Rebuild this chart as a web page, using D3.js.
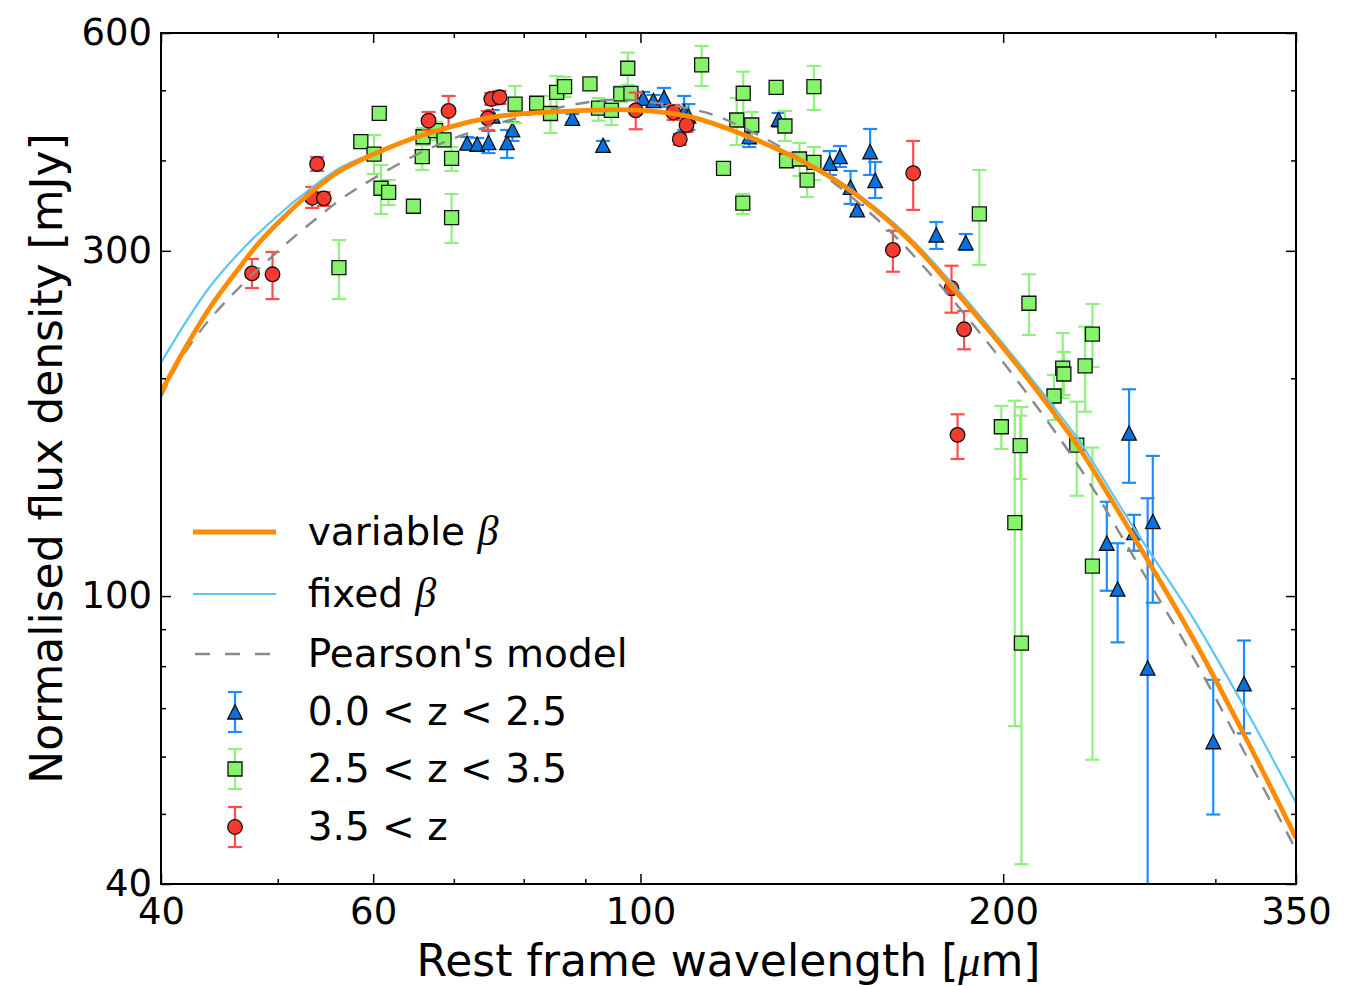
<!DOCTYPE html>
<html>
<head>
<meta charset="utf-8">
<script src="https://cdn.jsdelivr.net/npm/d3@7"></script>
<style>
  html, body { margin: 0; padding: 0; background: #ffffff; }
  svg { display: block; }
  text { font-family: "DejaVu Sans", sans-serif; fill: #000; }
</style>
</head>
<body>
<svg id="chart" width="1359" height="986"></svg>
<script>
// ---------------- data ----------------
const xMajorTicks = [40, 60, 100, 200, 350];
const xMinorTicks = [50, 70, 80, 90, 300];
const yMajorTicks = [40, 100, 300, 600];
const yMinorTicks = [50, 60, 70, 80, 90, 200, 400, 500];

const xLabel = "Rest frame wavelength [";
const yLabel = "Normalised flux density [mJy]";
const legendLabels = ["variable ", "fixed ", "Pearson's model", "0.0 < z < 2.5", "2.5 < z < 3.5", "3.5 < z"];

// variable beta fit (orange)
const varBetaX = [40, 41.9, 43.9, 46.1, 48.3, 50.7, 53.2, 56.3, 60.1, 66.0, 75.4, 85.8, 99.3, 109.9, 120.9, 137.4, 146.4, 156.0, 168.4, 181.3, 203.8, 224.2, 231.6, 256.1, 287.4, 318.7, 350];
const varBetaY = [191.4, 220.2, 250.1, 279.5, 308.5, 335.2, 360.6, 386.8, 408.2, 433.6, 459.2, 467.3, 469.5, 459.7, 436.0, 396.3, 371.9, 343.9, 306.6, 267.4, 212.0, 172.3, 159.7, 121.5, 87.5, 63.2, 46.3];
// fixed beta fit (light blue)
const fixBetaX = [40, 41.5, 43.9, 46.8, 49.9, 53.2, 56.3, 60.1, 66.0, 75.4, 85.8, 99.3, 109.9, 120.9, 137.4, 146.4, 156.0, 168.4, 181.3, 203.8, 224.2, 231.6, 256.1, 287.4, 318.7, 350];
const fixBetaY = [209.9, 232.5, 267.4, 302.2, 334.6, 365.3, 390.5, 409.5, 434.3, 459.2, 467.3, 469.5, 459.9, 436.4, 397.3, 373.5, 346.1, 309.5, 270.8, 214.7, 175.7, 163.3, 125.0, 93.3, 69.2, 51.8];
// Pearson's model (grey dashed)
const pearsonX = [40, 41.5, 43.4, 45.4, 47.4, 49.3, 51.5, 53.9, 56.3, 58.9, 65.6, 73.6, 89.1, 97.4, 112.8, 120.9, 137.4, 158.1, 174.9, 203.8, 231.6, 256.1, 287.4, 318.7, 350];
const pearsonY = [188.4, 212.0, 235.7, 256.6, 276.0, 293.2, 312.9, 333.1, 352.7, 370.5, 409.5, 442.1, 479.5, 484.9, 466.7, 446.3, 396.7, 328.8, 276.0, 202.1, 150.3, 114.0, 82.4, 59.9, 44.6];

// 0.0 < z < 2.5 (blue triangles)
const lowZX  = [71.8, 73.2, 74.8, 77.5, 78.3, 75.4, 87.8, 93.1, 100.5, 102.5, 104.6, 108.7, 109.6, 123.1, 130.2, 143.6, 146.4, 155.1, 156.6, 149.4, 151.3, 176.0, 186.2, 254.4, 243.8, 248.9, 256.8, 266.2, 263.6, 298.8, 316.9];
const lowZY  = [422.5, 421.1, 423.3, 423.3, 440.7, 460.7, 457.4, 419.5, 487.4, 483.7, 488.4, 467.1, 460.7, 431.3, 456.0, 396.3, 404.8, 411.2, 375.1, 367.2, 341.7, 315.5, 307.8, 167.9, 118.3, 102.2, 122.4, 126.7, 79.5, 62.9, 75.6];
const lowZLo = [414.7, 413.4, 409.5, 403.1, 425.6, 452.0, 452.0, 413.4, 478.6, 475.6, 474.1, 440.7, 440.7, 417.4, 444.9, 381.9, 391.7, 381.9, 354.9, 348.3, 337.4, 301.8, 300.8, 143.4, 101.7, 86.3, 115.5, 97.9, 1, 49.9, 64.6];
const lowZHi = [430.9, 429.6, 439.3, 440.7, 452.0, 469.5, 463.7, 425.6, 497.4, 492.6, 503.7, 491.1, 478.6, 444.9, 465.2, 412.1, 418.8, 442.1, 398.0, 386.8, 347.2, 328.8, 316.5, 193.1, 135.0, 118.3, 129.5, 156.2, 136.5, 76.6, 86.8];

// 2.5 < z < 3.5 (green squares)
const midZX  = [56.2, 58.6, 60.7, 60.1, 60.9, 61.8, 64.8, 69.7, 65.9, 66.0, 67.6, 68.7, 69.7, 78.7, 82.0, 84.2, 85.2, 86.5, 90.8, 92.3, 94.6, 96.3, 97.6, 98.2, 112.4, 121.7, 120.2, 123.7, 117.2, 121.6, 129.6, 139.3, 131.8, 132.2, 135.5, 139.3, 137.5, 191.1, 210.1, 237.2, 233.9, 224.1, 224.6, 220.4, 199.3, 206.6, 204.5, 207.1, 230.2, 237.2];
const midZY  = [284.3, 424.6, 464.7, 408.2, 366.1, 361.4, 345.7, 333.4, 404.8, 431.3, 439.7, 426.9, 402.7, 478.6, 479.8, 464.4, 496.6, 505.8, 510.2, 472.5, 469.0, 494.2, 536.3, 495.0, 542.0, 495.3, 454.9, 447.7, 390.1, 349.1, 504.8, 505.8, 446.3, 399.6, 401.8, 397.6, 375.8, 337.4, 253.9, 230.2, 208.0, 206.5, 202.7, 189.0, 171.4, 161.4, 126.3, 86.1, 161.7, 110.0];
const midZLo = [257.3, 416.0, 454.9, 383.1, 337.4, 347.2, 338.4, 307.5, 388.0, 420.2, 426.9, 417.4, 386.8, 450.6, 469.5, 436.5, 474.1, 489.5, 502.1, 453.9, 447.7, 481.7, 508.5, 484.9, 506.9, 457.4, 420.2, 429.6, 384.3, 337.4, 495.8, 469.5, 425.6, 391.7, 380.7, 375.8, 356.0, 286.7, 229.5, 207.3, 179.8, 187.7, 189.6, 175.1, 159.7, 145.1, 66.1, 42.6, 137.6, 59.4];
const midZHi = [310.5, 433.6, 474.1, 433.6, 394.2, 375.8, 352.7, 359.5, 420.2, 443.5, 452.0, 436.5, 417.4, 506.9, 489.5, 491.1, 523.3, 521.6, 518.3, 487.9, 480.2, 506.9, 563.6, 503.7, 575.6, 530.5, 487.9, 466.7, 396.7, 359.5, 513.4, 540.3, 468.2, 406.9, 422.8, 417.4, 396.7, 388.0, 278.4, 253.3, 235.7, 231.0, 217.4, 202.1, 183.1, 177.6, 186.2, 182.5, 185.6, 160.4];

// 3.5 < z (red circles)
const highZX  = [47.6, 49.5, 53.9, 53.4, 54.6, 66.7, 69.3, 74.7, 75.2, 76.4, 99.1, 106.5, 109.2, 107.8, 162.0, 168.4, 181.2, 185.6, 183.3];
const highZY  = [279.2, 278.4, 395.5, 355.2, 354.5, 453.9, 468.2, 457.4, 486.4, 489.0, 469.0, 465.9, 447.7, 427.9, 300.8, 384.0, 266.3, 233.7, 167.0];
const highZLo = [266.5, 257.3, 386.8, 343.9, 346.1, 440.7, 444.9, 440.7, 477.2, 478.6, 441.7, 454.9, 437.9, 420.2, 280.7, 341.7, 246.4, 219.3, 154.7];
const highZHi = [292.3, 298.9, 404.4, 367.6, 361.8, 466.7, 491.1, 468.2, 495.8, 499.0, 496.3, 477.2, 457.8, 435.1, 319.8, 425.6, 286.1, 247.7, 178.3];

// ---------------- layout ----------------
const W = 1359, H = 986;
const L = 161, R = 1296, T = 33, B = 884;

const svg = d3.select("#chart");
svg.append("rect").attr("width", W).attr("height", H).attr("fill", "#fff");

const x = d3.scaleLog().domain([40, 350]).range([L, R]);
const y = d3.scaleLog().domain([40, 600]).range([B, T]);

svg.append("defs").append("clipPath").attr("id", "plotclip")
  .append("rect").attr("x", L).attr("y", T).attr("width", R - L).attr("height", B - T);

const plot = svg.append("g").attr("clip-path", "url(#plotclip)");

// ---------------- data series ----------------
const triPath = "M0,-7.3L7.3,7L-7.3,7Z";
const sqPath = "M-7,-7L7,-7L7,7L-7,7Z";

function drawSeries(xs, ys, lo, hi, barColor, fill, shape) {
  const g = plot.append("g");
  const data = xs.map((d, i) => ({ x: d, y: ys[i], lo: lo[i], hi: hi[i] }));
  const eb = g.append("g").attr("stroke", barColor).attr("stroke-width", 2.2).attr("fill", "none");
  data.forEach(d => {
    const cx = x(d.x);
    eb.append("line").attr("x1", cx).attr("x2", cx).attr("y1", y(d.lo)).attr("y2", y(d.hi));
    eb.append("line").attr("x1", cx - 7).attr("x2", cx + 7).attr("y1", y(d.lo)).attr("y2", y(d.lo));
    eb.append("line").attr("x1", cx - 7).attr("x2", cx + 7).attr("y1", y(d.hi)).attr("y2", y(d.hi));
  });
  const mk = g.append("g");
  data.forEach(d => {
    if (shape === "circle") {
      mk.append("circle").attr("cx", x(d.x)).attr("cy", y(d.y)).attr("r", 7.3)
        .attr("fill", fill).attr("stroke", "#111").attr("stroke-width", 1.3);
    } else {
      mk.append("path").attr("d", shape === "tri" ? triPath : sqPath)
        .attr("transform", `translate(${x(d.x)},${y(d.y)})`)
        .attr("fill", fill).attr("stroke", "#111").attr("stroke-width", 1.3);
    }
  });
}

const blueBar = "#1e8cff", blueFill = "#0a70e0";
const greenBar = "#90f07e", greenFill = "#86f46a";
const redBar = "#ff4d4d", redFill = "#f53a2e";

drawSeries(lowZX, lowZY, lowZLo, lowZHi, blueBar, blueFill, "tri");
drawSeries(midZX, midZY, midZLo, midZHi, greenBar, greenFill, "sq");
drawSeries(highZX, highZY, highZLo, highZHi, redBar, redFill, "circle");

// ---------------- curves ----------------
const lineGen = d3.line().x(d => x(d[0])).y(d => y(d[1])).curve(d3.curveCatmullRom.alpha(0.5));
const orangeC = "#ff8c00", skyC = "#5cc6f7", greyC = "#8a8a8a";

plot.append("path").datum(fixBetaX.map((d, i) => [d, fixBetaY[i]]))
  .attr("d", lineGen).attr("fill", "none").attr("stroke", skyC).attr("stroke-width", 2.2);
plot.append("path").datum(pearsonX.map((d, i) => [d, pearsonY[i]]))
  .attr("d", lineGen).attr("fill", "none").attr("stroke", greyC).attr("stroke-width", 2.4)
  .attr("stroke-dasharray", "14,11");
plot.append("path").datum(varBetaX.map((d, i) => [d, varBetaY[i]]))
  .attr("d", lineGen).attr("fill", "none").attr("stroke", orangeC).attr("stroke-width", 4.8);

// ---------------- axes ----------------
const fmt = d => String(d);
function styleAxis(g) {
  g.select(".domain").remove();
  g.selectAll(".tick line").attr("stroke", "#000").attr("stroke-width", 1.5);
  g.selectAll(".tick text").attr("font-size", 37).attr("font-family", "DejaVu Sans").attr("fill", "#000");
}
svg.append("g").attr("transform", `translate(0,${B})`)
  .call(d3.axisBottom(x).tickValues(xMajorTicks).tickFormat(fmt).tickSize(-10).tickPadding(14)).call(styleAxis);
svg.append("g").attr("transform", `translate(0,${B})`)
  .call(d3.axisBottom(x).tickValues(xMinorTicks).tickFormat("").tickSize(-5)).call(styleAxis);
svg.append("g").attr("transform", `translate(0,${T})`)
  .call(d3.axisTop(x).tickValues(xMajorTicks).tickFormat("").tickSize(-10)).call(styleAxis);
svg.append("g").attr("transform", `translate(0,${T})`)
  .call(d3.axisTop(x).tickValues(xMinorTicks).tickFormat("").tickSize(-5)).call(styleAxis);

svg.append("g").attr("transform", `translate(${L},0)`)
  .call(d3.axisLeft(y).tickValues(yMajorTicks).tickFormat(fmt).tickSize(-10).tickPadding(9)).call(styleAxis);
svg.append("g").attr("transform", `translate(${L},0)`)
  .call(d3.axisLeft(y).tickValues(yMinorTicks).tickFormat("").tickSize(-5)).call(styleAxis);
svg.append("g").attr("transform", `translate(${R},0)`)
  .call(d3.axisRight(y).tickValues(yMajorTicks).tickFormat("").tickSize(-10)).call(styleAxis);
svg.append("g").attr("transform", `translate(${R},0)`)
  .call(d3.axisRight(y).tickValues(yMinorTicks).tickFormat("").tickSize(-5)).call(styleAxis);

// frame
svg.append("rect").attr("x", L).attr("y", T).attr("width", R - L).attr("height", B - T)
  .attr("fill", "none").attr("stroke", "#000").attr("stroke-width", 2);

// axis labels
const xl = svg.append("text").attr("x", (L + R) / 2).attr("y", 976)
  .attr("text-anchor", "middle").attr("font-size", 44);
xl.append("tspan").text(xLabel);
xl.append("tspan").attr("font-family", "Liberation Serif").attr("font-style", "italic").text("\u03bc");
xl.append("tspan").text("m]");

svg.append("text").attr("transform", `translate(62,${(T + B) / 2}) rotate(-90)`)
  .attr("text-anchor", "middle").attr("font-size", 44).text(yLabel);

// ---------------- legend ----------------
const lg = svg.append("g");
const lx0 = 193, lx1 = 276, mx = 235, tx = 307.7;
const rowsY = [532, 594, 654, 712, 769, 827];

lg.append("line").attr("x1", lx0).attr("x2", lx1).attr("y1", rowsY[0]).attr("y2", rowsY[0])
  .attr("stroke", orangeC).attr("stroke-width", 4.8);
lg.append("line").attr("x1", lx0).attr("x2", lx1).attr("y1", rowsY[1]).attr("y2", rowsY[1])
  .attr("stroke", skyC).attr("stroke-width", 2.2);
lg.append("line").attr("x1", lx0 + 2).attr("x2", lx1).attr("y1", rowsY[2]).attr("y2", rowsY[2])
  .attr("stroke", greyC).attr("stroke-width", 2.4).attr("stroke-dasharray", "15,15");

function legendBar(yc, color) {
  const g = lg.append("g").attr("stroke", color).attr("stroke-width", 2.2);
  g.append("line").attr("x1", mx).attr("x2", mx).attr("y1", yc - 20).attr("y2", yc + 20);
  g.append("line").attr("x1", mx - 7).attr("x2", mx + 7).attr("y1", yc - 20).attr("y2", yc - 20);
  g.append("line").attr("x1", mx - 7).attr("x2", mx + 7).attr("y1", yc + 20).attr("y2", yc + 20);
}
legendBar(rowsY[3], blueBar);
lg.append("path").attr("d", triPath).attr("transform", `translate(${mx},${rowsY[3]})`)
  .attr("fill", blueFill).attr("stroke", "#111").attr("stroke-width", 1.3);
legendBar(rowsY[4], greenBar);
lg.append("path").attr("d", sqPath).attr("transform", `translate(${mx},${rowsY[4]})`)
  .attr("fill", greenFill).attr("stroke", "#111").attr("stroke-width", 1.3);
legendBar(rowsY[5], redBar);
lg.append("circle").attr("cx", mx).attr("cy", rowsY[5]).attr("r", 7.3)
  .attr("fill", redFill).attr("stroke", "#111").attr("stroke-width", 1.3);

legendLabels.forEach((lab, i) => {
  const t = lg.append("text").attr("x", tx).attr("y", rowsY[i] + 13).attr("font-size", 39);
  t.append("tspan").text(lab);
  if (i < 2) {
    t.append("tspan").attr("font-family", "Liberation Serif").attr("font-style", "italic")
      .attr("font-size", 42).text("\u03b2");
  }
});
</script>
</body>
</html>
